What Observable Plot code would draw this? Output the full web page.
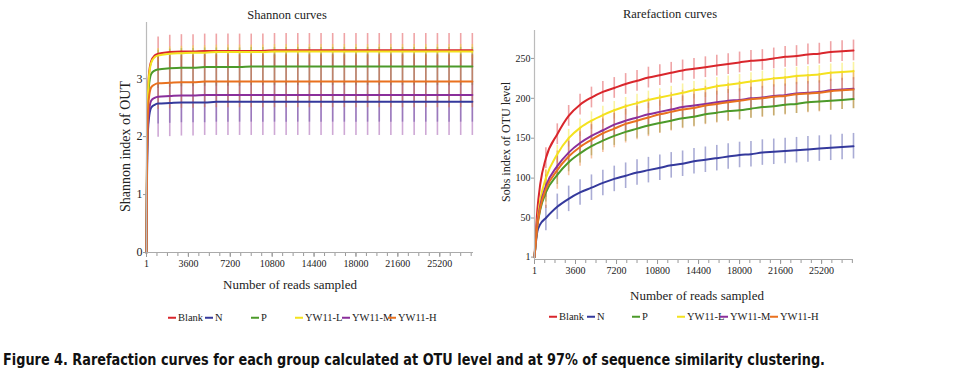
<!DOCTYPE html>
<html><head><meta charset="utf-8">
<script src="https://cdn.jsdelivr.net/npm/d3@7"></script>
<script src="https://cdn.jsdelivr.net/npm/@observablehq/plot@0.6"></script>
<style>
body{margin:0;background:#fff;}
#wrap{position:relative;width:974px;height:392px;overflow:hidden;font-family:"Liberation Serif","Times New Roman",serif;color:#222;}
.panel{position:absolute;top:0;}
.title{position:absolute;font-size:12.5px;transform:translateX(-50%);white-space:nowrap;line-height:1;}
.leg{position:absolute;font-size:10.5px;line-height:1;white-space:nowrap;display:flex;align-items:center;transform:translateY(-50%);}
.leg i{display:inline-block;width:8px;height:2px;margin-right:2px;}
#caption{position:absolute;left:3px;top:352px;font-family:"Liberation Sans Narrow","DejaVu Sans Condensed","Liberation Sans",sans-serif;font-weight:bold;font-size:16px;white-space:nowrap;line-height:1;color:#111;transform-origin:0 0;}
</style></head>
<body><div id="wrap"></div>
<script>
// ---------- data ----------
const groups = ["Blank", "N", "P", "YW11-L", "YW11-M", "YW11-H"];
const colors = ["#d9262c", "#34399c", "#4c9a2a", "#f4e21e", "#8a2f9b", "#e9711f"];

const xTickLabels = [1, 3600, 7200, 10800, 14400, 18000, 21600, 25200];
const shannonTicks = [0, 1, 2, 3];
const sobsTicks = [1, 50, 100, 150, 200, 250];

// Shannon curves: reads sampled
const shannonReads = [1, 50, 100, 200, 400, 700,
  1000, 2000, 3000, 4000, 5000, 6000, 7000, 8000, 9000, 10000, 11000, 12000, 13000, 14000,
  15000, 16000, 17000, 18000, 19000, 20000, 21000, 22000, 23000, 24000, 25000, 26000, 27000, 28000];
const shannonBlank = [0, 1.90, 2.60, 3.05, 3.30, 3.40,
  3.43, 3.46, 3.47, 3.47, 3.48, 3.48, 3.48, 3.48, 3.48, 3.48, 3.49, 3.49, 3.49, 3.49,
  3.49, 3.49, 3.49, 3.49, 3.49, 3.49, 3.49, 3.49, 3.49, 3.49, 3.49, 3.49, 3.49, 3.49];
const shannonN = [0, 1.40, 1.95, 2.30, 2.50, 2.55,
  2.57, 2.58, 2.59, 2.59, 2.59, 2.60, 2.60, 2.60, 2.60, 2.60, 2.60, 2.60, 2.60, 2.60,
  2.60, 2.60, 2.60, 2.60, 2.60, 2.60, 2.60, 2.60, 2.60, 2.60, 2.60, 2.60, 2.60, 2.60];
const shannonP = [0, 1.70, 2.40, 2.85, 3.08, 3.14,
  3.16, 3.18, 3.19, 3.19, 3.20, 3.20, 3.20, 3.20, 3.21, 3.21, 3.21, 3.21, 3.21, 3.21,
  3.21, 3.21, 3.21, 3.21, 3.21, 3.21, 3.21, 3.21, 3.21, 3.21, 3.21, 3.21, 3.21, 3.21];
const shannonL = [0, 1.85, 2.55, 3.00, 3.27, 3.37,
  3.40, 3.43, 3.44, 3.45, 3.45, 3.46, 3.46, 3.46, 3.46, 3.46, 3.47, 3.47, 3.47, 3.47,
  3.47, 3.47, 3.47, 3.47, 3.47, 3.47, 3.47, 3.47, 3.47, 3.47, 3.47, 3.47, 3.47, 3.47];
const shannonM = [0, 1.50, 2.05, 2.40, 2.62, 2.67,
  2.69, 2.70, 2.71, 2.71, 2.72, 2.72, 2.72, 2.72, 2.72, 2.72, 2.72, 2.72, 2.72, 2.72,
  2.72, 2.72, 2.72, 2.72, 2.72, 2.72, 2.72, 2.72, 2.72, 2.72, 2.72, 2.72, 2.72, 2.72];
const shannonH = [0, 1.65, 2.25, 2.65, 2.85, 2.90,
  2.92, 2.93, 2.94, 2.94, 2.95, 2.95, 2.95, 2.95, 2.95, 2.95, 2.95, 2.95, 2.95, 2.95,
  2.95, 2.95, 2.95, 2.95, 2.95, 2.95, 2.95, 2.95, 2.95, 2.95, 2.95, 2.95, 2.95, 2.95];
const shannonErr = [0.29, 0.35, 0.33, 0.12, 0.70, 0.45];

// Rarefaction (Sobs) curves
const sobsReads = [1, 250, 500,
  1000, 2000, 3000, 4000, 5000, 6000, 7000, 8000, 9000, 10000, 11000, 12000, 13000, 14000,
  15000, 16000, 17000, 18000, 19000, 20000, 21000, 22000, 23000, 24000, 25000, 26000, 27000, 28000];
const sobsBlank = [1, 60, 92, 125, 155, 178, 192, 201, 208, 213, 218, 222, 226, 229, 232, 235, 237,
  239, 241, 243, 245, 247, 248, 250, 252, 253, 255, 256, 258, 259, 260];
const sobsN = [1, 33, 42, 50, 64, 74, 82, 88, 94, 99, 103, 107, 110, 113, 116, 118, 121,
  123, 125, 127, 129, 130, 132, 133, 134, 135, 136, 137, 138, 139, 140];
const sobsP = [1, 40, 60, 82, 104, 120, 131, 140, 147, 153, 158, 162, 166, 169, 172, 175, 177,
  180, 182, 184, 185, 187, 189, 190, 192, 193, 195, 196, 197, 198, 199];
const sobsL = [1, 45, 72, 100, 130, 150, 163, 172, 179, 185, 190, 194, 198, 201, 204, 207, 210,
  212, 215, 217, 219, 221, 223, 225, 226, 228, 229, 230, 232, 233, 234];
const sobsM = [1, 42, 65, 90, 115, 132, 144, 153, 160, 167, 172, 176, 180, 183, 186, 189, 191,
  193, 195, 197, 198, 200, 201, 203, 204, 206, 207, 208, 210, 211, 212];
const sobsH = [1, 40, 62, 86, 110, 127, 139, 148, 156, 162, 168, 172, 176, 180, 183, 186, 188,
  191, 193, 195, 197, 199, 200, 202, 203, 205, 206, 207, 209, 210, 211];
const sobsErr = [13, 16, 12, 11, 14, 24];

const captionText = "Figure 4. Rarefaction curves for each group calculated at OTU level and at 97% of sequence similarity clustering.";

// ---------- layout (not data) ----------
const legendLeftX = [168, 205, 251, 295, 342, 388];
const legendRightX = [549, 587, 632, 677, 720, 770];

// ---------- build tidy tables ----------
function tidy(reads, seriesList, errs) {
  const rows = [];
  seriesList.forEach((vals, i) => vals.forEach((v, j) => rows.push({
    group: groups[i], reads: reads[j], value: v, lo: v - errs[i], hi: v + errs[i]
  })));
  return rows;
}
const shData = tidy(shannonReads, [shannonBlank, shannonN, shannonP, shannonL, shannonM, shannonH], shannonErr);
const sobsData = tidy(sobsReads, [sobsBlank, sobsN, sobsP, sobsL, sobsM, sobsH], sobsErr);
const errFilter = d => d.reads >= 1000;
const minorTicks = d3.range(0, 28001, 900);

function panel({data, xDomain, yDomain, yTicks, ml, mr, mt, mb, yLabel, ylx, yly, ylf, xlx, xly, yFont}) {
  return Plot.plot({
    width: 487, height: 300,
    marginLeft: ml, marginRight: mr, marginTop: mt, marginBottom: mb,
    style: {fontFamily: "'Liberation Serif','Times New Roman',serif", fontSize: "10px", color: "#222", background: "transparent", overflow: "visible"},
    x: {domain: xDomain},
    y: {domain: yDomain},
    color: {domain: groups, range: colors},
    marks: [
      Plot.ruleX(data.filter(errFilter), {x: "reads", y1: "lo", y2: "hi", stroke: "group", strokeOpacity: 0.42, strokeWidth: 1.6}),
      Plot.line(data, {x: "reads", y: "value", z: "group", stroke: "group", strokeWidth: 2, curve: "monotone-x"}),
      Plot.axisX({ticks: minorTicks, tickSize: 4, text: null, stroke: "#999", label: null}),
      Plot.axisX({ticks: xTickLabels, tickSize: 5, tickFormat: d => String(d), stroke: "#999", fontSize: 10, tickPadding: 2, label: null}),
      Plot.axisY({ticks: yTicks, tickSize: 3, tickFormat: d => String(d), stroke: "#999", fontSize: yFont, tickPadding: 1, label: null}),
      Plot.ruleY([yDomain[0]], {stroke: "#aaa", strokeWidth: 1.2}),
      Plot.ruleX([xDomain[0]], {stroke: "#bbb", strokeWidth: 1.2}),
      Plot.text([yLabel], {frameAnchor: "left", textAnchor: "middle", dx: ylx, dy: yly, rotate: -90, fontSize: ylf}),
      Plot.text(["Number of reads sampled"], {frameAnchor: "bottom", textAnchor: "middle", dx: xlx, dy: xly, fontSize: 13})
    ]
  });
}

const wrap = document.getElementById("wrap");

const left = panel({data: shData, xDomain: [1, 28100], yDomain: [0, 3.97], yTicks: shannonTicks,
  ml: 146, mr: 14, mt: 22, mb: 48, yLabel: "Shannon index of OUT", ylx: -21, yly: 9, ylf: 14, xlx: -20, xly: 36, yFont: 12});
left.classList.add("panel"); left.style.left = "0px";
wrap.appendChild(left);

const right = panel({data: sobsData, xDomain: [1, 28000], yDomain: [-2, 285], yTicks: sobsTicks,
  ml: 47, mr: 121, mt: 30, mb: 41, yLabel: "Sobs index of OTU level", ylx: -28, yly: -3, ylf: 12, xlx: 3, xly: 40, yFont: 10});
right.classList.add("panel"); right.style.left = "487px";
wrap.appendChild(right);

function addTitle(text, cx, top) {
  const d = document.createElement("div");
  d.className = "title"; d.textContent = text;
  d.style.left = cx + "px"; d.style.top = top + "px";
  wrap.appendChild(d);
}
addTitle("Shannon curves", 287, 9);
addTitle("Rarefaction curves", 670, 8);

function addLegend(xs, cy) {
  groups.forEach((g, i) => {
    const d = document.createElement("div");
    d.className = "leg";
    d.style.left = xs[i] + "px"; d.style.top = cy + "px";
    const sw = document.createElement("i");
    sw.style.background = colors[i];
    d.appendChild(sw);
    d.appendChild(document.createTextNode(g));
    wrap.appendChild(d);
  });
}
addLegend(legendLeftX, 318);
addLegend(legendRightX, 317);

const cap = document.createElement("div");
cap.id = "caption"; cap.textContent = captionText;
wrap.appendChild(cap);
const capW = cap.getBoundingClientRect().width;
cap.style.transform = `scaleX(${(822 / capW).toFixed(4)})`;
</script>
</body></html>
